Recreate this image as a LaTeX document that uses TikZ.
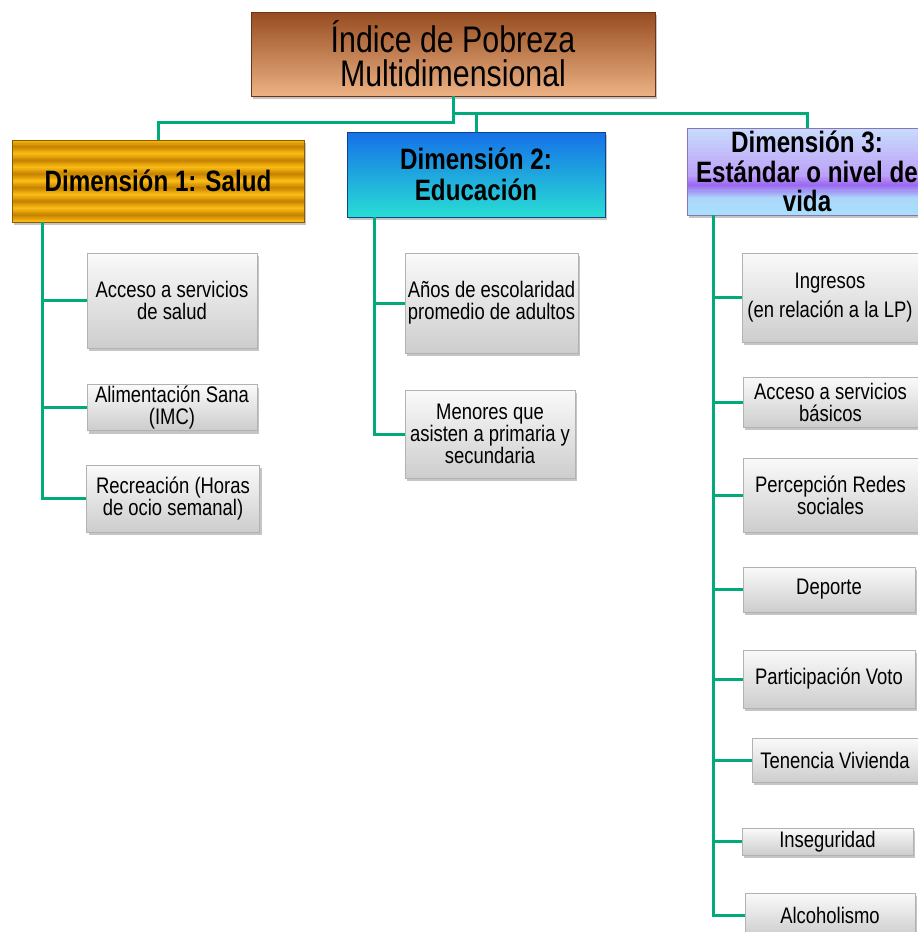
\documentclass[tikz,border=0pt]{standalone}
\usepackage{fontspec}
\setmainfont{Liberation Sans}
\newfontfamily\nar[FakeStretch=0.82]{Liberation Sans}
\usetikzlibrary{shadows}
\definecolor{lnkgreen}{RGB}{0,170,122}
\definecolor{leaftop}{RGB}{250,250,250}
\definecolor{leafbot}{RGB}{205,205,205}
\definecolor{brtop}{RGB}{150,76,32}
\definecolor{brbot}{RGB}{236,178,132}
\definecolor{gL}{RGB}{252,190,20}
\definecolor{gB}{RGB}{198,128,0}
\definecolor{bltop}{RGB}{22,112,232}
\definecolor{blbot}{RGB}{40,222,212}
\definecolor{pTop}{RGB}{200,222,252}
\definecolor{pMid}{RGB}{188,160,248}
\definecolor{pPu}{RGB}{155,100,240}
\definecolor{pLo}{RGB}{172,214,250}
\definecolor{pBot}{RGB}{168,224,250}
\begin{document}
\begin{tikzpicture}[x=1pt,y=-1pt,
  conn/.style={draw=lnkgreen, line width=3pt},
  box/.style={rectangle, inner sep=0pt, align=center, text=black,
    drop shadow={shadow xshift=2pt, shadow yshift=-3pt, opacity=0.45}},
  leaf/.style={box, top color=leaftop, bottom color=leafbot, draw=gray!60, line width=0.6pt,
    font=\nar\fontsize{22.5}{22}\selectfont},
  dimbox/.style={box, line width=0.6pt, font=\nar\bfseries\fontsize{29.5}{31}\selectfont},
  topbox/.style={box, top color=brtop, bottom color=brbot, draw=brtop!70!black, line width=0.6pt,
    font=\nar\fontsize{37}{34}\selectfont},
  % gradient bands drawn as thin strips: list of colA/colB/from/to (fractions from top)
  strips/.style={path picture={
      \coordinate (pA) at (path picture bounding box.north west);
      \coordinate (pZ) at (path picture bounding box.south east);
      \foreach \ca/\cb/\ya/\yb in {#1}{
        \foreach \k in {0,...,11}{
          \pgfmathsetmacro{\ta}{\ya+(\yb-\ya)*\k/12}
          \pgfmathsetmacro{\tb}{min(1,\ya+(\yb-\ya)*(\k+1)/12+0.004)}
          \pgfmathsetmacro{\pc}{100*(\k+0.5)/12}
          \path (pA) -- (pZ) coordinate[pos=\ta] (r1) coordinate[pos=\tb] (r2);
          \fill[\cb!\pc!\ca] (pA |- r1) rectangle (pZ |- r2);
        }
      }}},
]
\clip (0,0) rectangle (918,932);
\fill[white] (0,0) rectangle (918,932);

% top
\node[topbox, minimum width=404pt, minimum height=84pt] (top) at (453,54) {Índice de Pobreza\\Multidimensional};

% dimensions
\node[dimbox, fill=gL, draw=gB!70!black, minimum width=292pt, minimum height=82pt,
  strips={gL/gB/0/0.0833, gB/gL/0.0833/0.1667, gL/gB/0.1667/0.25, gB/gL/0.25/0.3333,
          gL/gB/0.3333/0.4167, gB/gL/0.4167/0.5, gL/gB/0.5/0.5833, gB/gL/0.5833/0.6667,
          gL/gB/0.6667/0.75, gB/gL/0.75/0.8333, gL/gB/0.8333/0.9167, gB/gL/0.9167/1}] (d1) at (158,181) {Dimensión 1: Salud};
\node[dimbox, top color=bltop, bottom color=blbot, draw=bltop!60!black, minimum width=258pt, minimum height=85pt] (d2) at (476,174.5) {Dimensión 2:\\Educación};
\node[dimbox, fill=pTop, draw=pPu!50!gray, minimum width=240pt, minimum height=87pt,
  font=\nar\bfseries\fontsize{29.5}{29.5}\selectfont,
  strips={pTop/pMid/0/0.55, pMid/pPu/0.55/0.66, pPu/pLo/0.66/0.8, pLo/pBot/0.8/1}] (d3) at (807,171.5) {Dimensión 3:\\Estándar o nivel de\\vida};

% top connectors
\draw[conn] (top.south) -- ++(0,26) -| (d1.north);
\draw[conn] (top.south) ++(0,17) -| (d3.north);
\draw[conn] (top.south) ++(0,17) -| (d2.north);

% leaves dimension 1
\node[leaf, minimum width=170pt, minimum height=95pt] (l11) at (172,300.5) {Acceso a servicios\\de salud};
\node[leaf, minimum width=170pt, minimum height=46pt] (l12) at (172,407.5) {Alimentación Sana\\(IMC)};
\node[leaf, minimum width=173pt, minimum height=67pt] (l13) at (173,498.5) {Recreación (Horas\\de ocio semanal)};

% leaves dimension 2
\node[leaf, minimum width=173pt, minimum height=100pt] (l21) at (491.5,303) {Años de escolaridad\\promedio de adultos};
\node[leaf, minimum width=170pt, minimum height=88pt] (l22) at (490,434) {Menores que\\asisten a primaria y\\secundaria};

% leaves dimension 3
\node[leaf, minimum width=176pt, minimum height=89pt] (l31) at (830,297.5) {Ingresos\\[7pt](en relación a la LP)};
\node[leaf, minimum width=175pt, minimum height=50pt] (l32) at (830.5,402) {Acceso a servicios\\básicos};
\node[leaf, minimum width=175pt, minimum height=74pt] (l33) at (830.5,495) {Percepción Redes\\sociales};
\node[leaf, minimum width=172pt, minimum height=45pt] (l34) at (829,589.5) {Deporte};
\node[leaf, minimum width=172pt, minimum height=58pt] (l35) at (829,679) {Participación Voto};
\node[leaf, minimum width=166pt, minimum height=44pt] (l36) at (835,760) {Tenencia Vivienda};
\node[leaf, minimum width=171pt, minimum height=27pt] (l37) at (827.5,841.5) {Inseguridad};
\node[leaf, minimum width=170pt, minimum height=44pt] (l38) at (830,915) {Alcoholismo};

% branch connectors
\coordinate (v1) at (42,222);
\coordinate (v2) at (374,217);
\coordinate (v3) at (713,215);
\foreach \n in {l11,l12,l13} \draw[conn] (v1) |- (\n.west);
\foreach \n in {l21,l22} \draw[conn] (v2) |- (\n.west);
\foreach \n in {l31,l32,l33,l34,l35,l36,l37,l38} \draw[conn] (v3) |- (\n.west);
\end{tikzpicture}
\end{document}
